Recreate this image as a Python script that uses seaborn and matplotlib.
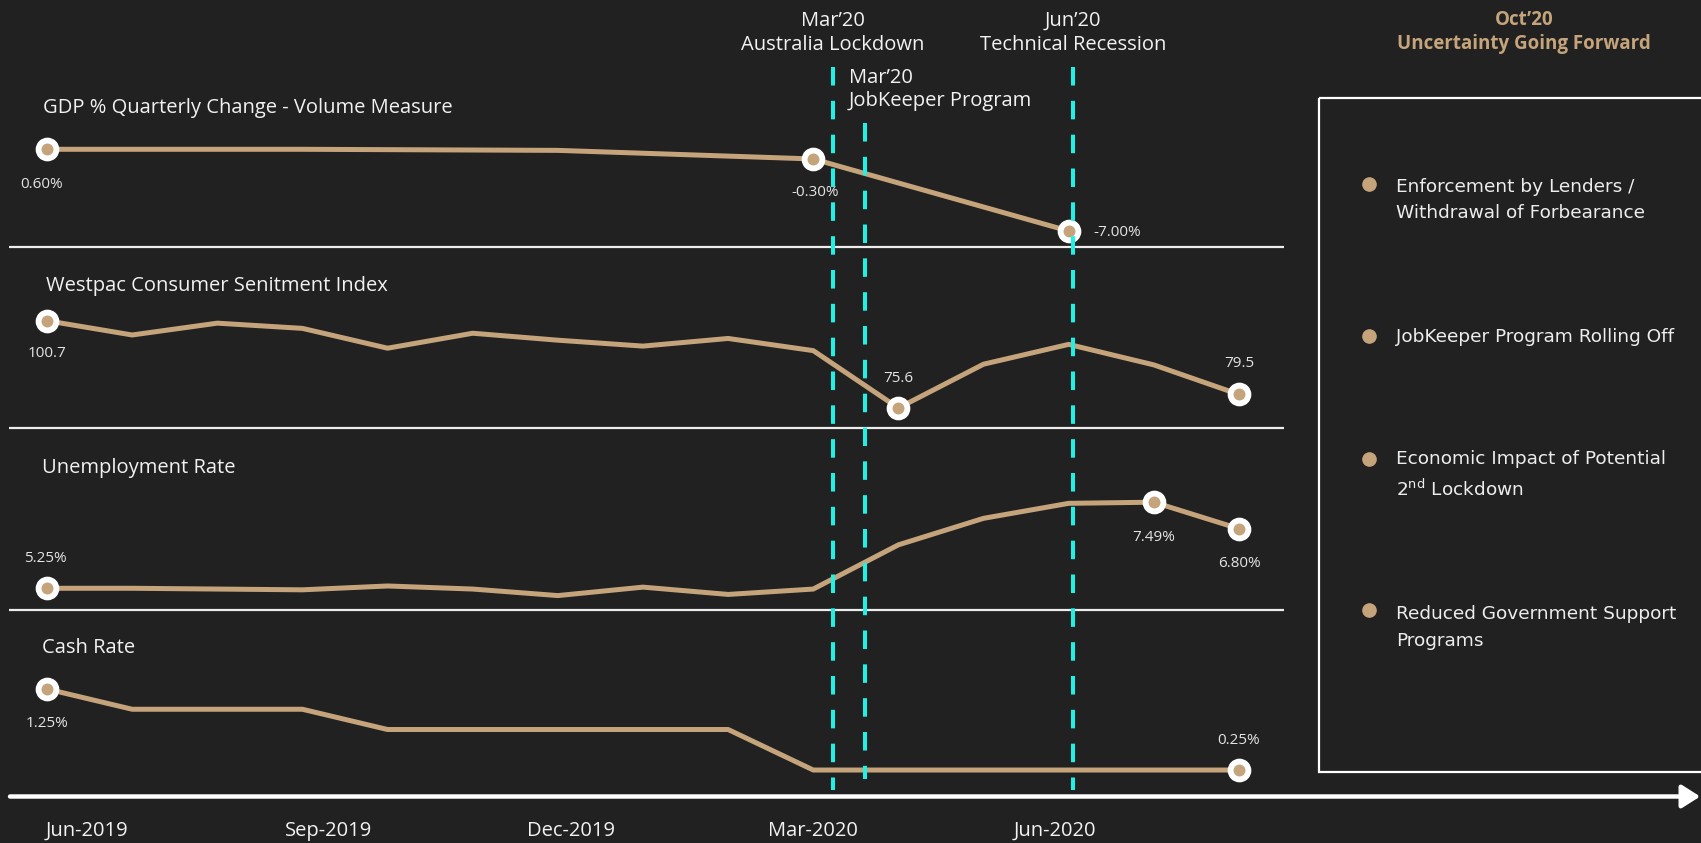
import matplotlib
matplotlib.use("Agg")
import matplotlib.pyplot as plt
import seaborn as sns
from matplotlib.patches import Rectangle

# ---------------- data ----------------
months = ["Jun-2019", "Jul-2019", "Aug-2019", "Sep-2019", "Oct-2019", "Nov-2019", "Dec-2019",
          "Jan-2020", "Feb-2020", "Mar-2020", "Apr-2020", "May-2020", "Jun-2020", "Jul-2020", "Aug-2020"]

gdp_months = ["Jun-2019", "Sep-2019", "Dec-2019", "Mar-2020", "Jun-2020"]
gdp_values = [0.6, 0.6, 0.5, -0.3, -7.0]

westpac_values = [100.7, 96.6, 100.0, 98.5, 92.8, 97.1, 95.1, 93.4, 95.6, 92.1,
                  75.6, 88.2, 93.9, 88.0, 79.5]

unemployment_values = [5.25, 5.25, 5.23, 5.21, 5.31, 5.23, 5.06, 5.28, 5.09, 5.23,
                       6.38, 7.07, 7.46, 7.49, 6.80]

cash_rate_values = [1.25, 1.00, 1.00, 1.00, 0.75, 0.75, 0.75, 0.75, 0.75, 0.25,
                    0.25, 0.25, 0.25, 0.25, 0.25]

panel_titles = ["GDP % Quarterly Change - Volume Measure", "Westpac Consumer Senitment Index",
                "Unemployment Rate", "Cash Rate"]

gdp_marked = ["Jun-2019", "Mar-2020", "Jun-2020"]
gdp_marked_labels = ["0.60%", "-0.30%", "-7.00%"]
westpac_marked = ["Jun-2019", "Apr-2020", "Aug-2020"]
westpac_marked_labels = ["100.7", "75.6", "79.5"]
unemployment_marked = ["Jun-2019", "Jul-2020", "Aug-2020"]
unemployment_marked_labels = ["5.25%", "7.49%", "6.80%"]
cash_marked = ["Jun-2019", "Aug-2020"]
cash_marked_labels = ["1.25%", "0.25%"]

tick_labels = ["Jun-2019", "Sep-2019", "Dec-2019", "Mar-2020", "Jun-2020"]
tick_positions = [0.47, 3.31, 6.16, 9.0, 11.84]

event_labels = ["Mar’20\nAustralia Lockdown", "Mar’20\nJobKeeper Program", "Jun’20\nTechnical Recession"]
event_positions = [9.23, 9.61, 12.05]

outlook_title = "Oct’20\nUncertainty Going Forward"
outlook_items = ["Enforcement by Lenders /\nWithdrawal of Forbearance",
                 "JobKeeper Program Rolling Off",
                 "Economic Impact of Potential\n2$^{\\mathregular{nd}}$ Lockdown",
                 "Reduced Government Support\nPrograms"]

# ---------------- style ----------------
BG = "#212121"
TAN = "#C5A47C"
CYAN = "#22F0E4"
WHITE = "#F2F2F2"

sns.set_theme(style="dark")
plt.rcParams["font.family"] = ["Open Sans", "DejaVu Sans"]
plt.rcParams["axes.facecolor"] = BG
plt.rcParams["figure.facecolor"] = BG

W, H = 1701, 843
X0, DX = 47.0, 85.14          # pixel position of first month and month spacing
XL = (-X0 / DX, (W - X0) / DX)


def px2x(px):
    return (px - X0) / DX


fig = plt.figure(figsize=(W / 100, H / 100), dpi=100, facecolor=BG)


def add_panel(top, bottom, ylim):
    ax = fig.add_axes([0, 1 - bottom / H, 1, (bottom - top) / H])
    ax.set_facecolor("none")
    ax.set_xlim(XL)
    ax.set_ylim(ylim)
    for sp in ax.spines.values():
        sp.set_visible(False)
    ax.set_xticks([])
    ax.set_yticks([])
    ax.grid(False)
    return ax


ax1 = add_panel(0, 247, (-8.49, 14.49))
ax2 = add_panel(247, 428, (69.85, 121.9))
ax3 = add_panel(428, 610, (4.685, 9.42))
ax4 = add_panel(610, 797, (-0.083, 2.225))

idx = {m: i for i, m in enumerate(months)}
LW = 3.6

panels = [
    (ax1, [idx[m] for m in gdp_months], gdp_values, gdp_marked, gdp_marked_labels,
     [(-3.6, -25), (1.4, -24.5), (35, -1.4)]),
    (ax2, list(range(len(months))), westpac_values, westpac_marked, westpac_marked_labels,
     [(0, -23.8), (0, 21.6), (0, 22.3)]),
    (ax3, list(range(len(months))), unemployment_values, unemployment_marked, unemployment_marked_labels,
     [(-1.4, 21.6), (0, -25.2), (0, -25.2)]),
    (ax4, list(range(len(months))), cash_rate_values, cash_marked, cash_marked_labels,
     [(0, -25.2), (0, 20.9)]),
]

for ax, xs, ys, marked, mlabels, offsets in panels:
    sns.lineplot(x=xs, y=ys, ax=ax, color=TAN, linewidth=LW, sort=False, estimator=None)
    lookup = dict(zip(xs, ys))
    mx = [idx[m] for m in marked]
    my = [lookup[i] for i in mx]
    sns.scatterplot(x=mx, y=my, ax=ax, s=165, color=TAN, edgecolor="white", linewidth=4.2,
                    zorder=5, legend=False)
    for x, y, lab, off in zip(mx, my, mlabels, offsets):
        ax.annotate(lab, (x, y), xytext=off, textcoords="offset points", ha="center",
                    va="center", fontsize=11, color="#E4E4E4")

# x tick labels
ax4.set_xticks(tick_positions, tick_labels)
ax4.tick_params(axis="x", length=0, pad=17, colors=WHITE, labelsize=14.5)

# panel titles
title_pos = [(43, 108), (46, 286), (42, 468), (42, 648)]
for t, (px, py) in zip(panel_titles, title_pos):
    fig.text(px / W, 1 - py / H, t, ha="left", va="center", fontsize=14.5, color=WHITE)

# overlay axes in pixel-row units for annotations
ax0 = fig.add_axes([0, 0, 1, 1])
ax0.set_facecolor("none")
ax0.set_xlim(XL)
ax0.set_ylim(H, 0)
ax0.axis("off")

# separators
ax0.hlines([247, 428, 610], px2x(8.7), px2x(1284), color="#EDEDED", lw=1.6)

# time arrow
ax0.annotate("", xy=(XL[1] - 0.01, 796.5), xytext=(px2x(10), 796.5),
             arrowprops=dict(arrowstyle="-|>,head_length=0.55,head_width=0.35", color="white",
                             lw=3.2, shrinkA=0, shrinkB=0, mutation_scale=20))

# event lines and labels
event_spans = [(66.7, 790), (122.7, 779), (66.7, 790)]
for x, (y0, y1) in zip(event_positions, event_spans):
    ax0.vlines(x, y0, y1, color=CYAN, lw=2.9, linestyles=[(0, (4.6, 3.8))], zorder=10)

ax0.text(event_positions[0], 33, event_labels[0], ha="center", va="center", fontsize=14.5,
         color=WHITE, linespacing=1.25)
ax0.text(px2x(849), 89.5, event_labels[1], ha="left", va="center", fontsize=14.5,
         color=WHITE, linespacing=1.25)
ax0.text(event_positions[2], 33, event_labels[2], ha="center", va="center", fontsize=14.5,
         color=WHITE, linespacing=1.25)

# outlook box
ax0.text(px2x(1524), 32, outlook_title, ha="center", va="center", fontsize=13.5,
         fontweight="bold", color=TAN, linespacing=1.25)
ax0.add_patch(Rectangle((px2x(1319), 97.6), 8, 674, fill=False, ec="white", lw=1.6))
item_y = [200, 337.5, 475, 627.5]
bullet_y = [184.4, 336, 458.6, 610]
for txt, ty, by in zip(outlook_items, item_y, bullet_y):
    ax0.plot([px2x(1369)], [by], marker="o", ms=9.5, color=TAN, mec=TAN)
    ax0.text(px2x(1396), ty, txt, ha="left", va="center", fontsize=13.3, color="#EDEDED",
             family=["DejaVu Sans"], linespacing=1.6)

fig.savefig("out.png", dpi=100, facecolor=BG)
